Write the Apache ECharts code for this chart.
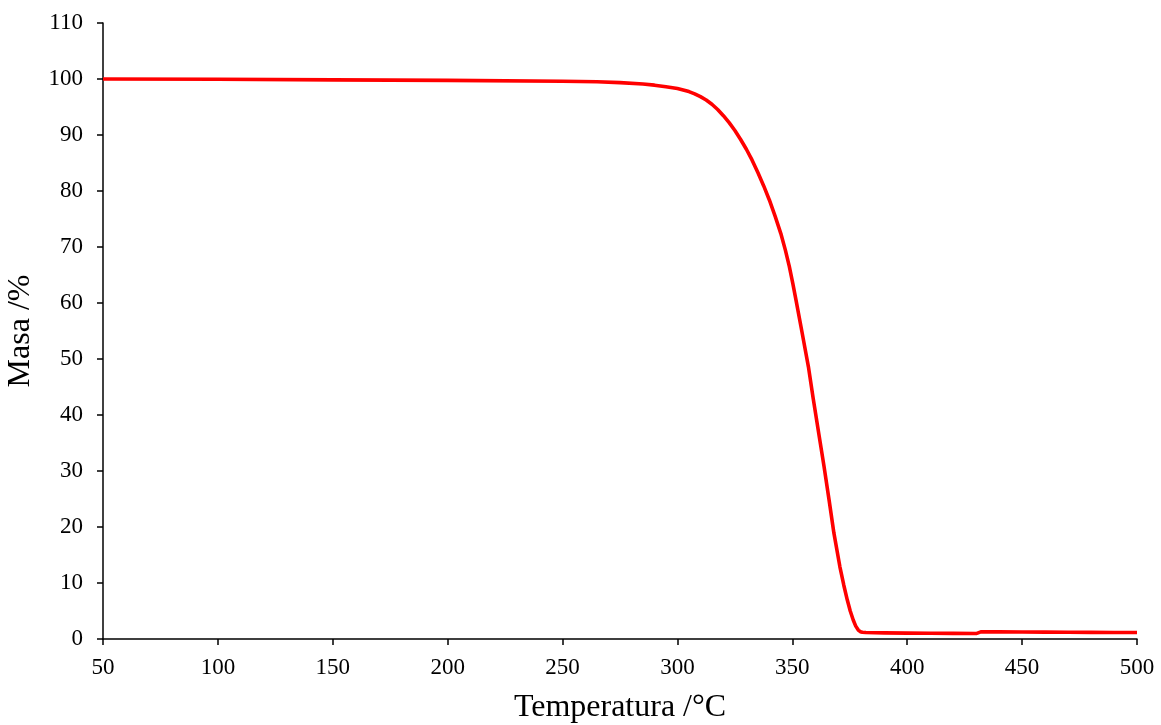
<!DOCTYPE html>
<html>
<head>
<meta charset="utf-8">
<script src="https://cdn.jsdelivr.net/npm/echarts@6/dist/echarts.min.js"></script>
<style>html,body{margin:0;padding:0;background:#fff;}#c{width:1161px;height:725px;}</style>
</head>
<body>
<div id="c"></div>
<script>
const temperature = [50, 100, 150, 200, 250, 265, 275, 285, 290, 295, 300, 302.5, 305, 307.5, 310, 312.5, 315, 317.5, 320, 322.5, 325, 327.5, 330, 332.5, 335, 337.5, 340, 342.5, 345, 347, 348.7, 350.2, 351.6, 354.3, 357, 359.1, 361.5, 363.8, 366, 368.1, 370.7, 372.4, 373.9, 375.2, 376.5, 377.6, 378.7, 379.6, 380.5, 382, 390, 400, 410, 420, 430, 430.8, 432, 440, 450, 460, 470, 480, 490, 500];
const mass = [100.0, 99.95, 99.85, 99.75, 99.6, 99.5, 99.35, 99.1, 98.9, 98.6, 98.3, 98.05, 97.75, 97.35, 96.85, 96.25, 95.5, 94.55, 93.45, 92.2, 90.8, 89.2, 87.45, 85.5, 83.3, 80.95, 78.4, 75.5, 72.4, 69.4, 66.5, 63.5, 60.5, 54.6, 48.6, 42.9, 36.7, 30.8, 24.8, 18.9, 12.9, 9.6, 7.0, 5.0, 3.4, 2.3, 1.6, 1.3, 1.2, 1.15, 1.1, 1.05, 1.02, 1.0, 0.97, 1.05, 1.28, 1.27, 1.25, 1.23, 1.2, 1.18, 1.16, 1.15];
const xTicks = [50, 100, 150, 200, 250, 300, 350, 400, 450, 500];
const yTicks = [0, 10, 20, 30, 40, 50, 60, 70, 80, 90, 100, 110];

const chart = echarts.init(document.getElementById('c'), null, {renderer: 'canvas'});
const font = 'Liberation Serif';
const axisLine = {show: true, lineStyle: {color: '#000', width: 1.5}};
chart.setOption({
  animation: false,
  backgroundColor: '#fff',
  grid: {left: 103, right: 24, top: 23, bottom: 86, containLabel: false, outerBoundsMode: 'none'},
  xAxis: {
    type: 'value', min: xTicks[0], max: xTicks[xTicks.length - 1], interval: 50,
    name: 'Temperatura /°C', nameLocation: 'middle', nameGap: 53,
    nameTextStyle: {fontFamily: font, fontSize: 32, color: '#000'},
    axisLine: axisLine,
    axisTick: {show: true, length: 6, inside: false, lineStyle: {color: '#000', width: 1.5}},
    axisLabel: {fontFamily: font, fontSize: 23, color: '#000', margin: 17},
    splitLine: {show: false}
  },
  yAxis: {
    type: 'value', min: yTicks[0], max: yTicks[yTicks.length - 1], interval: 10,
    name: 'Masa /%', nameLocation: 'middle', nameGap: 66,
    nameTextStyle: {fontFamily: font, fontSize: 32, color: '#000'},
    axisLine: axisLine,
    axisTick: {show: true, length: 6, inside: false, lineStyle: {color: '#000', width: 1.5}},
    axisLabel: {fontFamily: font, fontSize: 23, color: '#000', margin: 20},
    splitLine: {show: false}
  },
  series: [{
    type: 'line',
    data: temperature.map((t, i) => [t, mass[i]]),
    showSymbol: false,
    smooth: false,
    lineStyle: {color: '#ff0000', width: 3.6, join: 'round'},
    itemStyle: {color: '#ff0000'}
  }]
});
</script>
</body>
</html>
